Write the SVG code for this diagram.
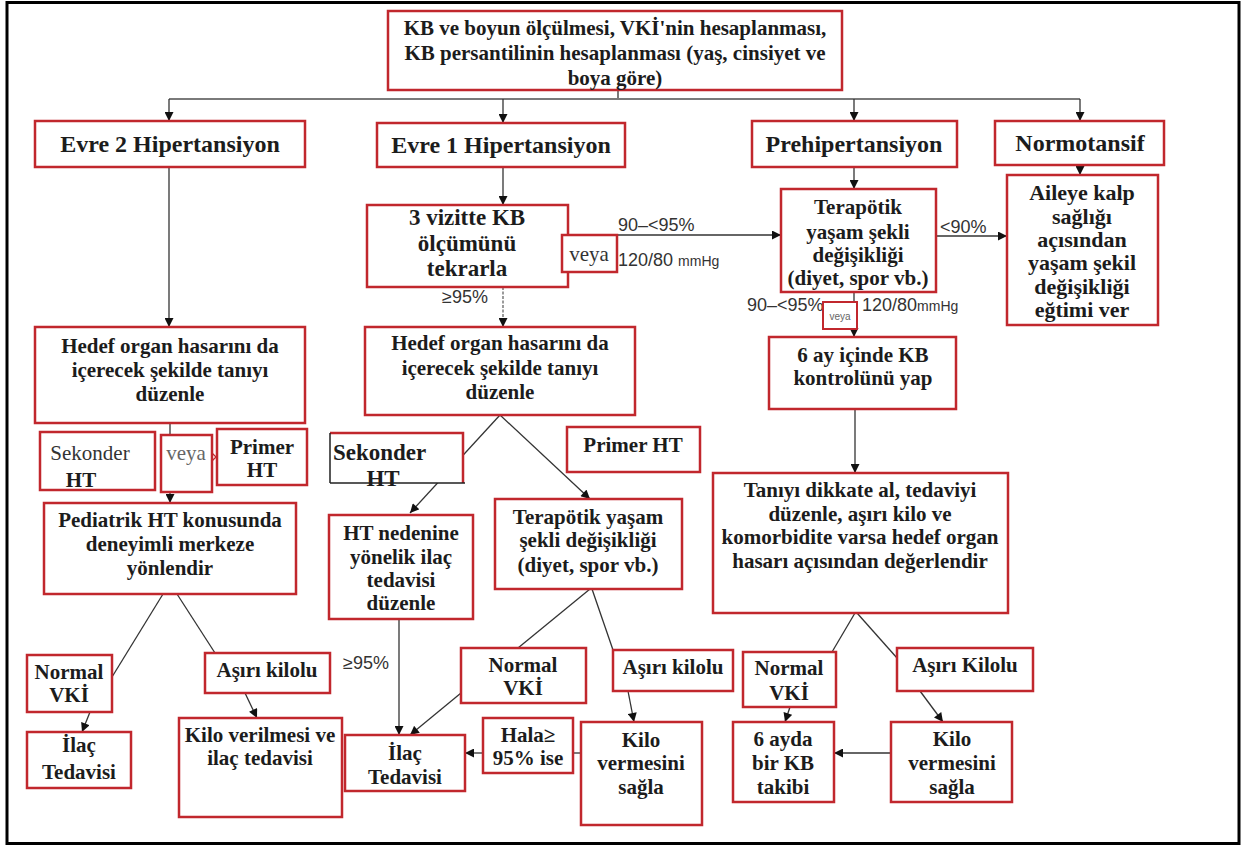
<svg xmlns="http://www.w3.org/2000/svg" width="1246" height="847" viewBox="0 0 1246 847">
  <defs>
    <marker id="ah" viewBox="0 0 10 10" refX="10" refY="5" markerWidth="10" markerHeight="9" markerUnits="userSpaceOnUse" orient="auto">
      <path d="M0,0 L10,5 L0,10 z" fill="#111"/>
    </marker>
    <style>
      .box { fill: #fff; stroke: #c1272d; stroke-width: 2.5; }
      .t { font-family: "Liberation Serif", "Times New Roman", serif; font-weight: bold; font-size: 21px; fill: #1c1c1c; text-anchor: middle; }
      .big { font-size: 24px; }
      .mid { font-size: 23px; }
      .wide { font-size: 22px; }
      .reg { font-weight: normal; }
      .lbl { font-family: "Liberation Sans", Arial, sans-serif; font-size: 18px; fill: #333; }
      .sm { font-size: 14px; }
      .c { stroke: #333; stroke-width: 1.3; fill: none; }
      .a { marker-end: url(#ah); }
      .bus { stroke: #7a7a7a; stroke-width: 2.2; fill: none; }
    </style>
  </defs>

  <rect width="1246" height="847" fill="#fff"/>
  <rect x="7" y="2.5" width="1232" height="841" fill="none" stroke="#000" stroke-width="3"/>

  <!-- connectors -->
  <g id="connectors">
    <path class="c" d="M618,90 V99"/>
    <path class="bus" d="M169,99 H1080"/>
    <path class="c a" d="M169,99 V121"/>
    <path class="c a" d="M503,99 V123"/>
    <path class="c a" d="M854,99 V121"/>
    <path class="c a" d="M1080,99 V121"/>
    <path class="c a" d="M169,167 V327"/>
    <path class="c a" d="M503,167 V205"/>
    <path class="c a" d="M854,167 V189"/>
    <path class="c a" d="M1080,165 V175"/>
    <path class="c a" d="M617,235 H781"/>
    <path class="c a" d="M936,236 H1007"/>
    <path class="c a" d="M503,287 V327" stroke-dasharray="3 1.5" style="stroke:#666"/>
    <path class="c a" d="M170,423 V503"/>
    <path class="c" d="M211,452 L216,457 L211,462" style="stroke:#c1272d"/>
    <path class="c" d="M163,594 L112,677"/>
    <path class="c" d="M177,594 L215,653"/>
    <path class="c a" d="M90,712 L82,732"/>
    <path class="c a" d="M245,693 L257,718"/>
    <path class="c a" d="M500,415 L410,513"/>
    <path class="c a" d="M500,415 L590,499"/>
    <path class="c" d="M590,589 L518,648"/>
    <path class="c" d="M592,589 L613,650"/>
    <path class="c a" d="M399,619 V735"/>
    <path class="c a" d="M461,693 L410,735"/>
    <path class="c a" d="M628,691 L634,722"/>
    <path class="c" d="M581,753 H573"/>
    <path class="c a" d="M483,753 H465"/>
    <path class="c a" d="M854,292 V337"/>
    <path class="c a" d="M855,409 V473"/>
    <path class="c" d="M855,613 L832,652"/>
    <path class="c" d="M857,613 L897,658"/>
    <path class="c a" d="M790,707 L785,722"/>
    <path class="c a" d="M920,691 L943,722"/>
    <path class="c a" d="M891,753 H834"/>
  </g>

  <!-- connector labels -->
  <g id="labels">
    <text class="lbl" x="618" y="231">90–&lt;95%</text>
    <text class="lbl" x="618" y="266">120/80 <tspan class="sm">mmHg</tspan></text>
    <text class="lbl" x="940" y="233">&lt;90%</text>
    <text class="lbl" x="442" y="303">≥95%</text>
    <text class="lbl" x="747" y="311">90–&lt;95%</text>
    <text class="lbl" x="862" y="311">120/80<tspan class="sm">mmHg</tspan></text>
    <text class="lbl" x="343" y="669">≥95%</text>
  </g>

  <g id="n-top">
    <rect class="box" x="388" y="11" width="454" height="79"/>
    <text class="t" x="615" y="35">KB ve boyun ölçülmesi, VKİ'nin hesaplanması,</text>
    <text class="t" x="615" y="60">KB persantilinin hesaplanması (yaş, cinsiyet ve</text>
    <text class="t" x="615" y="85">boya göre)</text>
  </g>

  <g id="n-evre2">
    <rect class="box" x="35" y="121" width="270" height="46"/>
    <text class="t big" x="170" y="152">Evre 2 Hipertansiyon</text>
  </g>
  <g id="n-evre1">
    <rect class="box" x="377" y="123" width="248" height="44"/>
    <text class="t big" x="501" y="153">Evre 1 Hipertansiyon</text>
  </g>
  <g id="n-prehip">
    <rect class="box" x="752" y="121" width="205" height="46"/>
    <text class="t big" x="854" y="152">Prehipertansiyon</text>
  </g>
  <g id="n-normo">
    <rect class="box" x="995" y="121" width="169" height="44"/>
    <text class="t big" x="1080" y="151">Normotansif</text>
  </g>

  <g id="n-aileye">
    <rect class="box" x="1007" y="175" width="151" height="150"/>
    <text class="t wide" x="1082" y="200">Aileye kalp</text>
    <text class="t wide" x="1082" y="224">sağlığı</text>
    <text class="t wide" x="1082" y="247">açısından</text>
    <text class="t wide" x="1082" y="270">yaşam şekil</text>
    <text class="t wide" x="1082" y="294">değişikliği</text>
    <text class="t wide" x="1082" y="317">eğtimi ver</text>
  </g>

  <g id="n-tyd-pre">
    <rect class="box" x="781" y="189" width="155" height="103"/>
    <text class="t" x="858" y="214">Terapötik</text>
    <text class="t" x="858" y="239">yaşam şekli</text>
    <text class="t" x="858" y="262">değişikliği</text>
    <text class="t" x="858" y="285">(diyet, spor vb.)</text>
  </g>

  <g id="n-vizit">
    <rect class="box" x="367" y="205" width="201" height="82"/>
    <text class="t mid" x="467" y="225">3 vizitte KB</text>
    <text class="t mid" x="467" y="251">ölçümünü</text>
    <text class="t mid" x="467" y="276">tekrarla</text>
  </g>
  <g id="n-veya1">
    <rect class="box" x="562" y="235" width="55" height="37"/>
    <text class="t reg" x="589" y="261" style="fill:#333">veya</text>
  </g>

  <g id="n-hedef2">
    <rect class="box" x="365" y="327" width="270" height="88"/>
    <text class="t" x="500" y="350">Hedef organ hasarını da</text>
    <text class="t" x="500" y="375">içerecek şekilde tanıyı</text>
    <text class="t" x="500" y="399">düzenle</text>
  </g>
  <g id="n-hedef1">
    <rect class="box" x="35" y="327" width="270" height="96"/>
    <text class="t" x="170" y="353">Hedef organ hasarını da</text>
    <text class="t" x="170" y="377">içerecek şekilde tanıyı</text>
    <text class="t" x="170" y="401">düzenle</text>
  </g>

  <g id="n-sek2">
    <rect class="box" x="40" y="432" width="115" height="58"/>
    <text class="t reg" x="90" y="460" style="fill:#333">Sekonder</text>
    <text class="t" x="81" y="487">HT</text>
  </g>
  <g id="n-veya2">
    <rect class="box" x="161" y="435" width="51" height="57"/>
    <text class="t reg" x="186" y="460" style="fill:#666">veya</text>
  </g>
  <g id="n-primer2">
    <rect class="box" x="217" y="429" width="90" height="56"/>
    <text class="t" x="262" y="454">Primer</text>
    <text class="t" x="262" y="477">HT</text>
  </g>

  <g id="n-pediatrik">
    <rect class="box" x="44" y="503" width="252" height="91"/>
    <text class="t" x="170" y="527">Pediatrik HT konusunda</text>
    <text class="t" x="170" y="551">deneyimli merkeze</text>
    <text class="t" x="170" y="575">yönlendir</text>
  </g>
  <g id="n-normal2">
    <rect class="box" x="27" y="655" width="85" height="57"/>
    <text class="t" x="69" y="679">Normal</text>
    <text class="t" x="69" y="702">VKİ</text>
  </g>
  <g id="n-asiri2">
    <rect class="box" x="205" y="653" width="125" height="40"/>
    <text class="t" x="267" y="677">Aşırı kilolu</text>
  </g>
  <g id="n-ilac2">
    <rect class="box" x="27" y="732" width="104" height="56"/>
    <text class="t" x="79" y="752">İlaç</text>
    <text class="t" x="79" y="779">Tedavisi</text>
  </g>
  <g id="n-kiloilac">
    <rect class="box" x="179" y="718" width="163" height="99"/>
    <text class="t" x="260" y="742">Kilo verilmesi ve</text>
    <text class="t" x="260" y="765">ilaç tedavisi</text>
  </g>

  <g id="n-sek1">
    <rect x="330" y="433" width="133" height="50" fill="#fff"/>
    <path d="M330,433 H463 V483" fill="none" stroke="#c1272d" stroke-width="2.5"/>
    <text class="t mid" x="333" y="460" style="text-anchor:start">Sekonder</text>
    <text class="t mid" x="383" y="486">HT</text>
    <path d="M330,433 V483 M330,483 H465" fill="none" stroke="#222" stroke-width="1.5"/>
  </g>
  <g id="n-primer1">
    <rect class="box" x="567" y="427" width="133" height="45"/>
    <text class="t" x="633" y="452">Primer HT</text>
  </g>
  <g id="n-htneden">
    <rect class="box" x="329" y="515" width="144" height="104"/>
    <text class="t" x="401" y="540">HT nedenine</text>
    <text class="t" x="401" y="564">yönelik ilaç</text>
    <text class="t" x="401" y="587">tedavisi</text>
    <text class="t" x="401" y="610">düzenle</text>
  </g>
  <g id="n-tyd-e1">
    <rect class="box" x="495" y="499" width="187" height="90"/>
    <text class="t" x="588" y="524">Terapötik yaşam</text>
    <text class="t" x="588" y="547">şekli değişikliği</text>
    <text class="t" x="588" y="572">(diyet, spor vb.)</text>
  </g>
  <g id="n-normal1">
    <rect class="box" x="461" y="648" width="125" height="55"/>
    <text class="t" x="523" y="672">Normal</text>
    <text class="t" x="523" y="695">VKİ</text>
  </g>
  <g id="n-asiri1">
    <rect class="box" x="613" y="650" width="120" height="41"/>
    <text class="t" x="673" y="674">Aşırı kilolu</text>
  </g>
  <g id="n-ilac1">
    <rect class="box" x="345" y="735" width="120" height="56"/>
    <text class="t" x="405" y="760">İlaç</text>
    <text class="t" x="405" y="784">Tedavisi</text>
  </g>
  <g id="n-hala">
    <rect class="box" x="483" y="718" width="90" height="55"/>
    <text class="t" x="528" y="742">Hala≥</text>
    <text class="t" x="528" y="765">95% ise</text>
  </g>
  <g id="n-kilo1">
    <rect class="box" x="581" y="722" width="121" height="103"/>
    <text class="t" x="641" y="747">Kilo</text>
    <text class="t" x="641" y="770">vermesini</text>
    <text class="t" x="641" y="794">sağla</text>
  </g>

  <g id="n-veya3">
    <rect class="box" x="823" y="302" width="34" height="27" style="stroke-width:2"/>
    <text class="lbl" x="840" y="320" style="font-size:10px;text-anchor:middle;fill:#666">veya</text>
  </g>
  <g id="n-altiay">
    <rect class="box" x="769" y="337" width="187" height="72"/>
    <text class="t" x="863" y="362">6 ay içinde KB</text>
    <text class="t" x="863" y="385">kontrolünü yap</text>
  </g>
  <g id="n-taniyi">
    <rect class="box" x="713" y="473" width="295" height="140"/>
    <text class="t" x="860" y="497">Tanıyı dikkate al, tedaviyi</text>
    <text class="t" x="860" y="521">düzenle, aşırı kilo ve</text>
    <text class="t" x="860" y="544">komorbidite varsa hedef organ</text>
    <text class="t" x="860" y="568">hasarı açısından değerlendir</text>
  </g>
  <g id="n-normal3">
    <rect class="box" x="743" y="652" width="93" height="55"/>
    <text class="t" x="789" y="675">Normal</text>
    <text class="t" x="789" y="700">VKİ</text>
  </g>
  <g id="n-asiri3">
    <rect class="box" x="897" y="648" width="136" height="43"/>
    <text class="t" x="965" y="672">Aşırı Kilolu</text>
  </g>
  <g id="n-altiayda">
    <rect class="box" x="733" y="722" width="101" height="80"/>
    <text class="t" x="783" y="746">6 ayda</text>
    <text class="t" x="783" y="770">bir KB</text>
    <text class="t" x="783" y="794">takibi</text>
  </g>
  <g id="n-kilo3">
    <rect class="box" x="891" y="722" width="121" height="80"/>
    <text class="t" x="952" y="746">Kilo</text>
    <text class="t" x="952" y="770">vermesini</text>
    <text class="t" x="952" y="794">sağla</text>
  </g>
</svg>
